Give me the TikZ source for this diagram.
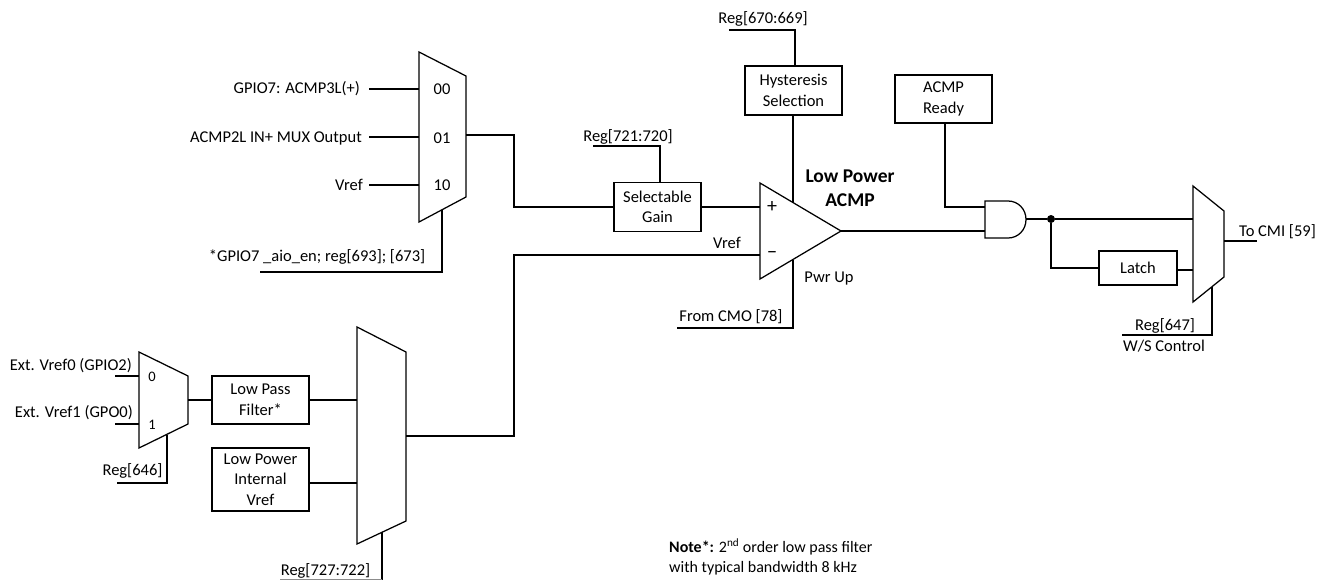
\documentclass[tikz,border=0pt]{standalone}
\usepackage{fontspec}
\setmainfont{Carlito}
\tikzset{
  x=1pt,y=-1pt,
  wire/.style={line width=1.25pt,line join=miter},
  shapeline/.style={line width=1.25pt,line join=miter,fill=white},
  blockbox/.style={draw,line width=1.25pt,fill=white,inner sep=0pt,align=center,font=\fontsize{16.5}{20.5}\selectfont,anchor=center},
  lab/.style={inner sep=0pt,font=\fontsize{16.5}{19}\selectfont},
  labr/.style={lab,anchor=east},
  labl/.style={lab,anchor=west},
  small/.style={inner sep=0pt,font=\fontsize{14.5}{16}\selectfont},
  title/.style={inner sep=0pt,align=center,font=\fontsize{19.5}{24}\selectfont\bfseries},
}
\begin{document}
\begin{tikzpicture}
\useasboundingbox (0,0) rectangle (1332,581);
% coordinates: small mux
\coordinate (sa) at (139,352); \coordinate (sb) at (188,376); \coordinate (sc) at (188,424); \coordinate (sd) at (139,448);
\coordinate (sin0) at (139,376); \coordinate (sin1) at (139,424); \coordinate (sfree0) at (115,376); \coordinate (sfree1) at (115,424);
\coordinate (sout) at (188,400); \coordinate (sctl) at (167,434.5); \coordinate (sctlc) at (167,483); \coordinate (sctlf) at (117,483);
% big mux
\coordinate (ba) at (357,327); \coordinate (bb) at (406,352); \coordinate (bc) at (406,521); \coordinate (bd) at (357,544);
\coordinate (bin0) at (357,400); \coordinate (bin1) at (357,483); \coordinate (bout) at (406,436);
\coordinate (bctl) at (382,532); \coordinate (bctlc) at (382,579.5); \coordinate (bctlf) at (280,579.5);
% top mux
\coordinate (ta) at (419,52); \coordinate (tb) at (466,76); \coordinate (tc) at (466,197); \coordinate (td) at (419,222);
\coordinate (tin0) at (419,89); \coordinate (tin1) at (419,137); \coordinate (tin2) at (419,185);
\coordinate (tf0) at (369,89); \coordinate (tf1) at (369,137); \coordinate (tf2) at (369,185);
\coordinate (tout) at (466,135); \coordinate (tbend) at (514,135);
\coordinate (tctl) at (442,210); \coordinate (tctlc) at (442,272); \coordinate (tctlf) at (260,272);
% comparator
\coordinate (ca) at (760,183); \coordinate (cb) at (841,231); \coordinate (cc) at (760,279);
\coordinate (cplus) at (760,207); \coordinate (cminus) at (760,255);
\coordinate (chyst) at (793,203); \coordinate (cpwr) at (793,260); \coordinate (cpwrc) at (793,328); \coordinate (cpwrf) at (677,328);
\coordinate (vbend1) at (514,436); \coordinate (vbend2) at (514,255);
% blocks
\node[blockbox,minimum width=97pt,minimum height=48pt] (lpf) at (260.5,400) {Low Pass\\Filter*};
\node[blockbox,minimum width=97pt,minimum height=63pt] (lpv) at (260.5,479.5) {Low Power\\Internal\\Vref};
\node[blockbox,minimum width=87pt,minimum height=49pt] (gain) at (657.5,207) {Selectable\\Gain};
\node[blockbox,minimum width=97pt,minimum height=49pt] (hyst) at (793.5,90.5) {Hysteresis\\Selection};
\node[blockbox,minimum width=97pt,minimum height=48pt] (ready) at (943.5,99) {ACMP\\Ready};
\node[blockbox,minimum width=78pt,minimum height=34pt] (latch) at (1138,268) {Latch};
% shapes
\draw[shapeline] (sa) -- (sb) -- (sc) -- (sd) -- cycle;
\draw[shapeline] (ba) -- (bb) -- (bc) -- (bd) -- cycle;
\draw[shapeline] (ta) -- (tb) -- (tc) -- (td) -- cycle;
\draw[shapeline] (ca) -- (cb) -- (cc) -- cycle;
% AND gate and output mux
\coordinate (aa) at (985,201); \coordinate (ab) at (985,238); \coordinate (ain0) at (985,207); \coordinate (ain1) at (985,231); \coordinate (aout) at (1026,219);
\draw[shapeline] (aa) -- (1008,201) .. controls (1018,201) and (1026,209) .. (1026,219.5) .. controls (1026,230) and (1018,238) .. (1008,238) -- (ab) -- cycle;
\coordinate (oa) at (1193,186); \coordinate (ob) at (1224,211); \coordinate (oc) at (1224,277); \coordinate (od) at (1193,302);
\coordinate (oin0) at (1193,219); \coordinate (oin1) at (1193,270); \coordinate (oout) at (1224,241); \coordinate (ofree) at (1257,241);
\coordinate (octl) at (1212,287); \coordinate (octlc) at (1212,335); \coordinate (octlf) at (1122,335);
\draw[shapeline] (oa) -- (ob) -- (oc) -- (od) -- cycle;
\node[circle,fill=black,inner sep=0pt,minimum size=8pt] (dot) at (1051,219) {};
% wires
\draw[wire] (sfree0) -- (sin0);
\draw[wire] (sfree1) -- (sin1);
\draw[wire] (sout) -- (sout -| lpf.west);
\draw[wire] (lpf.east) -- (bin0);
\draw[wire] (bin1 -| lpv.east) -- (bin1);
\draw[wire] (sctl) -- (sctlc) -- (sctlf);
\draw[wire] (bctl) -- (bctlc);
\draw[line width=.6pt,black!45] (bctlc) -- (bctlf);
\draw[wire] (bout) -- (vbend1) -- (vbend2) -- (cminus);
\draw[wire] (tf0) -- (tin0);
\draw[wire] (tf1) -- (tin1);
\draw[wire] (tf2) -- (tin2);
\draw[wire] (tout) -- (tbend) |- (gain.west);
\draw[wire] (tctl) -- (tctlc) -- (tctlf);
\coordinate (gtop) at (660,182); \coordinate (gc) at (660,146); \coordinate (gf) at (593,146);
\draw[wire] (gtop) -- (gc) -- (gf);
\coordinate (htop) at (795,66); \coordinate (hc) at (795,30); \coordinate (hf) at (729,30);
\draw[wire] (htop) -- (hc) -- (hf);
\draw[wire] (gain.east) -- (cplus);
\draw[wire] (hyst.south -| chyst) -- (chyst);
\draw[wire] (cpwr) -- (cpwrc) -- (cpwrf);
\draw[wire] (cb) -- (cb -| ain1) -- (ain1);
\coordinate (rbot) at (945,123);
\draw[wire] (rbot) |- (ain0);
\draw[wire] (aout) -- (dot) -- (oin0);
\draw[wire] (dot) |- (latch.west);
\draw[wire] (oin1 -| latch.east) -- (oin1);
\draw[wire] (oout) -- (ofree);
\draw[wire] (octl) -- (octlc) -- (octlf);
% labels
\node[labr] (l1) at (132,366) {Ext. Vref0 (GPIO2)};
\node[labr] (l2) at (133,413) {Ext. Vref1 (GPO0)};
\node[small] (l3) at (152,377) {0};
\node[small] (l4) at (152,425) {1};
\node[lab] (l5) at (132.5,471) {Reg[646]};
\node[lab] (l6) at (325.5,571) {Reg[727:722]};
\node[labr] (l7) at (360,89) {GPIO7: ACMP3L(+)};
\node[labr] (l8) at (362,138) {ACMP2L IN+ MUX Output};
\node[labr] (l9) at (363,185) {Vref};
\node[lab] (l10) at (442,89) {00};
\node[lab] (l11) at (442,138) {01};
\node[lab] (l12) at (442,185) {10};
\node[lab] (l13) at (317,257) {*GPIO7 \_aio\_en; reg[693]; [673]};
\node[lab] (l14) at (763,19) {Reg[670:669]};
\node[lab] (l15) at (628,137) {Reg[721:720]};
\node[lab] (l16) at (727,243) {Vref};
\node[lab] (l17) at (829,279) {Pwr Up};
\node[lab] (l18) at (731,317) {From CMO [78]};
\node[title] (l19) at (850,188) {Low Power\\ACMP};
\node[inner sep=0pt,font=\fontsize{20}{20}\selectfont] (l20) at (772,207) {+};
\node[inner sep=0pt,font=\fontsize{20}{20}\selectfont] (l21) at (772,255) {\char"2212};
\node[lab] (l22) at (1277.5,232) {To CMI [59]};
\node[lab] (l23) at (1165,326) {Reg[647]};
\node[lab] (l24) at (1164,346) {W/S Control};
\node[labl,align=left,font=\fontsize{16}{19.5}\selectfont] (l25) at (669,557) {\textbf{Note*:} 2\textsuperscript{nd} order low pass filter\\with typical bandwidth 8 kHz};
\end{tikzpicture}
\end{document}
